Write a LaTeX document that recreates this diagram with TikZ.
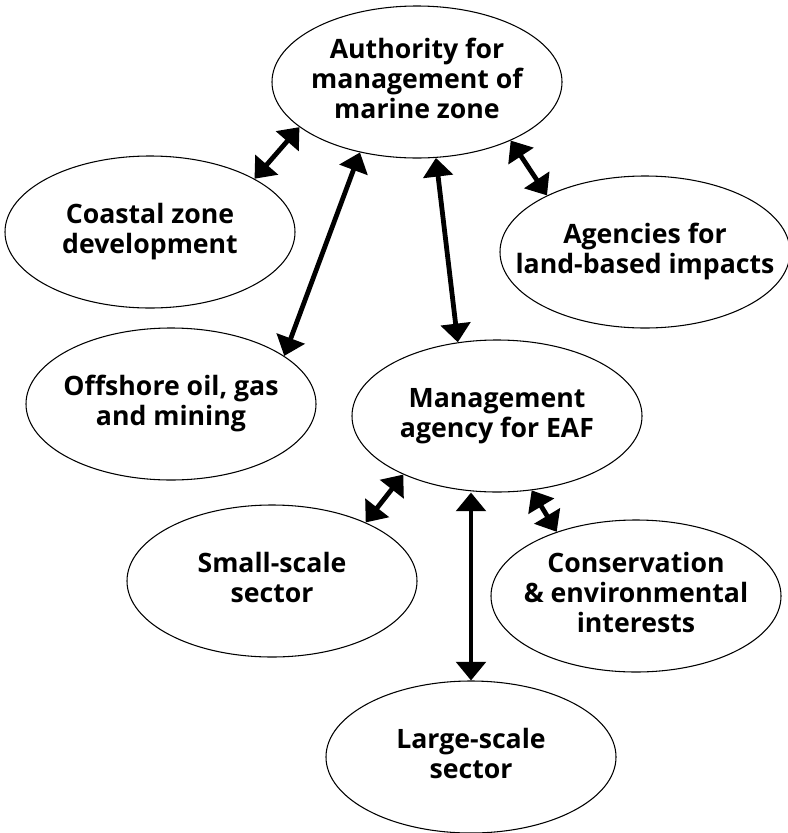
\documentclass[tikz,border=0pt]{standalone}
\usepackage{fontspec}
\setmainfont{Open Sans}
\usetikzlibrary{shapes.geometric,arrows.meta}
\newcommand\ctxt[1]{\makebox[0pt]{\begin{tabular}{@{}c@{}}#1\end{tabular}}}
\tikzset{
  blob/.style={ellipse, draw, line width=0.8pt, minimum width=217.5pt, minimum height=114pt, inner sep=0pt, font=\bfseries\fontsize{20pt}{22.5pt}\selectfont},
  link/.style={line width=3.6pt, {Triangle[length=14pt,width=22pt]}-{Triangle[length=14pt,width=22pt]}}
}
\begin{document}
\begin{tikzpicture}[x=0.75pt,y=-0.75pt]
\useasboundingbox (0,0) rectangle (788,833);
\node[blob] (auth) at (417,82) {\raisebox{4pt}{\ctxt{Authority for\\management of\\marine zone}}};
\node[blob] (coast) at (150,232) {\ctxt{Coastal zone\\development}};
\node[blob] (agen) at (645,252) {\ctxt{Agencies for\\land-based impacts}};
\node[blob] (off) at (171,404) {\ctxt{Offshore oil, gas\\and mining}};
\node[blob] (mgmt) at (497,416) {\ctxt{Management\\agency for EAF}};
\node[blob] (small) at (272,581) {\ctxt{Small-scale\\sector}};
\node[blob] (cons) at (636,596) {\ctxt{Conservation\\\& environmental\\interests}};
\node[blob] (large) at (471,757) {\ctxt{Large-scale\\sector}};
\draw[link] (coast.27) -- (auth.201.5);
\draw[link] (off.23.8) -- (auth.231.9);
\draw[link] (auth.284.7) -- (mgmt.118.4);
\draw[link] (auth.328.9) -- (agen.150.3);
\draw[link] (small.32.5) -- (mgmt.212.7);
\draw[link] (mgmt.south -| large.north) -- (large.north);
\draw[link] (mgmt.295.9) -- (cons.141.7);
\end{tikzpicture}
\end{document}
